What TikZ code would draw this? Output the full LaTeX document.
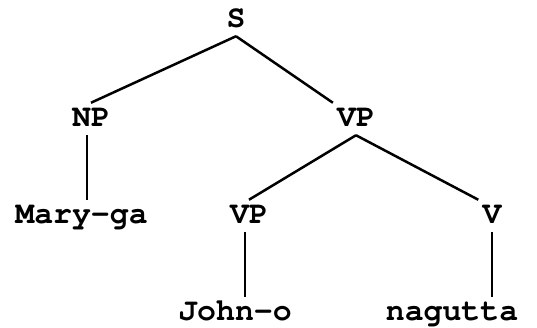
\documentclass[tikz,border=0pt]{standalone}
\usepackage[T1]{fontenc}
\usepackage{courier}

\begin{document}
\begin{tikzpicture}[x=1pt, y=1pt, line width=2.5pt,
        cat/.style={font=\ttfamily\bfseries\fontsize{31.5}{36}\selectfont, anchor=base,
            text height=20pt, text depth=4pt, inner sep=3pt}]
        \useasboundingbox (0,0) rectangle (537,328);

        \node[cat] (S) at (236,300) {S};
        \node[cat] (NP) at (91,201) {NP};
        \node[cat] (VPa) at (356,201) {VP};
        \node[cat] (Mary) at (81.5,104) {Mary-ga};
        \node[cat] (VPb) at (249,104) {VP};
        \node[cat] (V) at (492,104) {V};
        \node[cat] (John) at (235,7) {John-o};
        \node[cat] (nagutta) at (452,7) {nagutta};

        \draw (S.south) -- (NP.north);
        \draw (S.south) -- (VPa.north west);
        \draw ([xshift=-4pt]NP.south) -- ([xshift=-4pt]NP.south |- Mary.north);
        \draw (VPa.south) -- (VPb.north);
        \draw (VPa.south) -- (V.north west);
        \draw ([xshift=-4pt]VPb.south) -- ([xshift=-4pt]VPb.south |- John.north);
        \draw (V.south) -- (V.south |- nagutta.north);
    \end{tikzpicture}
\end{document}
